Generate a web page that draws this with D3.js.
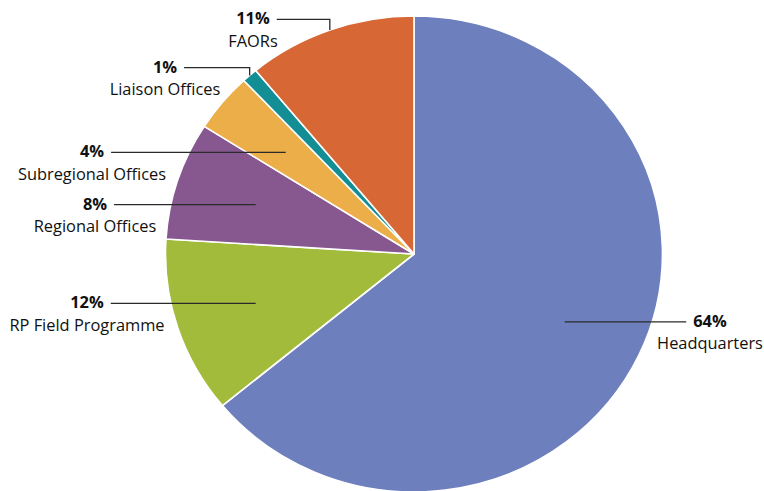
<!DOCTYPE html>
<html>
<head>
<meta charset="utf-8">
<script src="https://cdn.jsdelivr.net/npm/d3@7"></script>
<style>
  html, body { margin: 0; padding: 0; background: #fff; }
  svg { display: block; }
  text { font-family: "Open Sans", "Noto Sans", sans-serif; fill: #111; }
</style>
</head>
<body>
<svg id="chart" width="764" height="491"></svg>
<script>
// Budget share by location (%), clockwise from 12 o'clock
const categories = ["Headquarters", "RP Field Programme", "Regional Offices",
                    "Subregional Offices", "Liaison Offices", "FAORs"];
const shares = [64, 12, 8, 4, 1, 11];
const colors = ["#6e7fbd", "#a3bb3b", "#87588f", "#ebae48", "#138e94", "#d76836"];

// Label placement: centre x of the text block, and whether the leader
// sits inside the slice ("inner") or leaves the rim with an elbow ("outer").
const labelLayout = [
  { cx: 710, side: "right", kind: "inner" },
  { cx: 87,  side: "left",  kind: "inner" },
  { cx: 95,  side: "left",  kind: "inner" },
  { cx: 92,  side: "left",  kind: "inner" },
  { cx: 165, side: "left",  kind: "outer", lineY: 67.7 },
  { cx: 253, side: "left",  kind: "outer", lineY: 19.3 }
];

const cx = 414, cy = 254, rx = 248.5, ry = 238;
const fontSize = 16.4;

const svg = d3.select("#chart");
const data = categories.map((c, i) => ({ name: c, value: shares[i], color: colors[i], layout: labelLayout[i] }));

const pie = d3.pie().value(d => d.value).sort(null).startAngle(0).endAngle(2 * Math.PI);
const arcs = pie(data);
const arc = d3.arc().innerRadius(0).outerRadius(1);

// Slices drawn on a unit circle, then stretched into the ellipse
const pieG = svg.append("g").attr("transform", `translate(${cx},${cy}) scale(${rx},${ry})`);
pieG.selectAll("path")
  .data(arcs)
  .enter().append("path")
  .attr("d", arc)
  .attr("fill", d => d.data.color)
  .attr("stroke", "#fff")
  .attr("stroke-width", 1.6)
  .attr("vector-effect", "non-scaling-stroke")
  .attr("stroke-linejoin", "round");

// Point on the stretched pie at a given angle and radius fraction
function pt(angle, r) {
  return [cx + Math.sin(angle) * r * rx, cy - Math.cos(angle) * r * ry];
}

const labels = svg.append("g");
arcs.forEach(a => {
  const L = a.data.layout;
  const mid = (a.startAngle + a.endAngle) / 2;
  let anchor, lineY;
  if (L.kind === "inner") {
    anchor = pt(mid, 0.67);
    lineY = anchor[1];
  } else {
    anchor = pt(mid, 1.0);
    lineY = L.lineY;
  }

  // Two-line label: bold percentage above the category name
  const label = labels.append("text")
    .attr("text-anchor", "middle")
    .attr("font-size", fontSize);
  const pct = label.append("tspan")
    .attr("x", L.cx)
    .attr("y", lineY + 4.8)
    .attr("font-weight", "bold")
    .text(a.data.value + "%");
  label.append("tspan")
    .attr("x", L.cx)
    .attr("y", lineY + 27.4)
    .text(a.data.name);

  const w = pct.node().getComputedTextLength();
  const gap = 7;
  const x0 = L.side === "left" ? L.cx + w / 2 + gap : L.cx - w / 2 - gap;

  const pts = L.kind === "inner"
    ? [[x0, lineY], [anchor[0], lineY]]
    : [[x0, lineY], [anchor[0], lineY], [anchor[0], anchor[1]]];
  labels.append("path")
    .attr("d", d3.line()(pts))
    .attr("fill", "none")
    .attr("stroke", "#2a2a2a")
    .attr("stroke-width", 1.3);
});
</script>
</body>
</html>
